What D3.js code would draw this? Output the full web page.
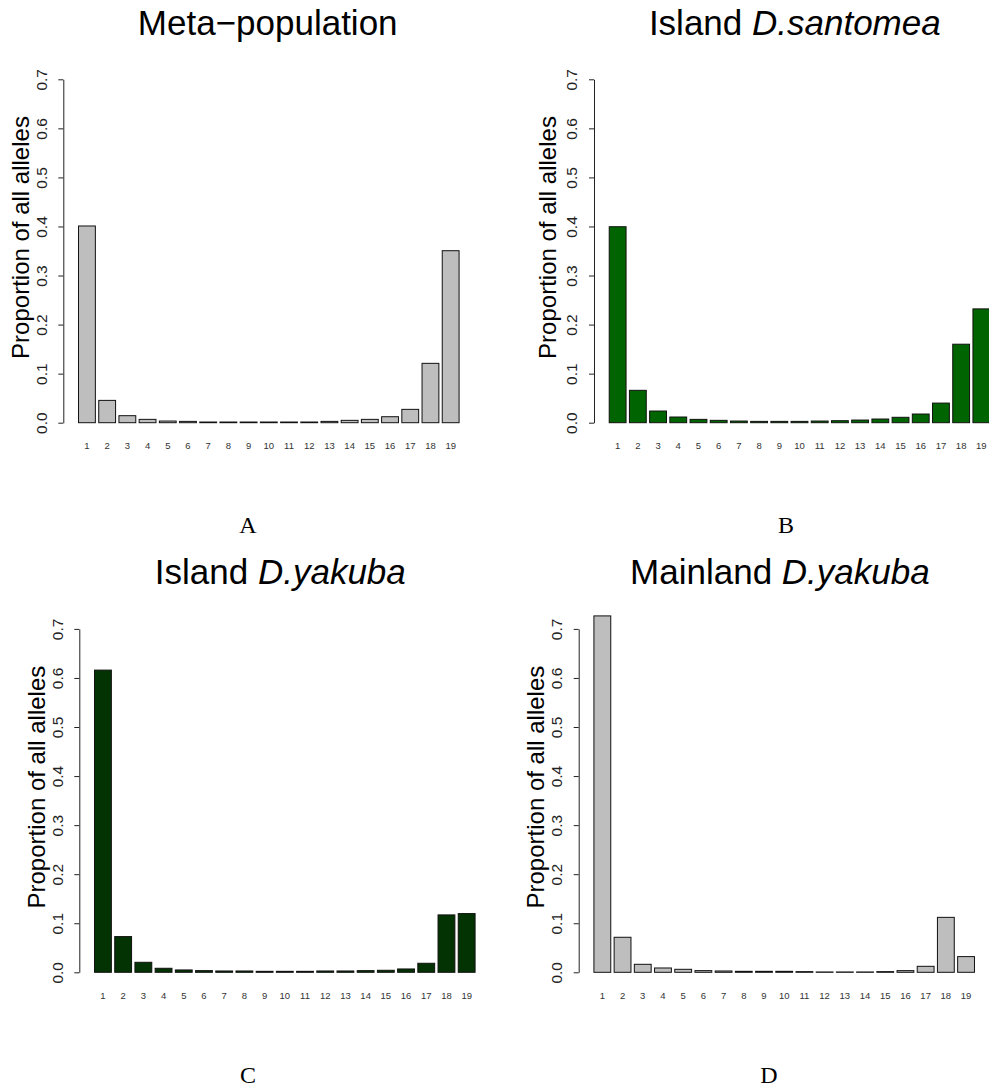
<!DOCTYPE html>
<html>
<head>
<meta charset="utf-8">
<script src="https://cdn.jsdelivr.net/npm/d3@7"></script>
<style>
  body { margin: 0; background: #fff; }
  svg { display: block; }
</style>
</head>
<body>
<svg width="989" height="1088"></svg>
<script>
// allele classes along the x axis
const categories = ["1","2","3","4","5","6","7","8","9","10","11","12","13","14","15","16","17","18","19"];
const yTicks = [0, 0.1, 0.2, 0.3, 0.4, 0.5, 0.6, 0.7];

// proportions
const metaPopulation = [0.401, 0.0455, 0.0143, 0.0068, 0.0034, 0.0027, 0.0014, 0.0014, 0.0014, 0.0014, 0.0014, 0.0014, 0.0027, 0.0048, 0.0068, 0.0122, 0.0272, 0.121, 0.3506];
const islandSantomea = [0.3995, 0.066, 0.0238, 0.0116, 0.0068, 0.0048, 0.0034, 0.0027, 0.0027, 0.0027, 0.0034, 0.0041, 0.0054, 0.0075, 0.011, 0.0177, 0.040, 0.160, 0.232];
const islandYakuba = [0.616, 0.0728, 0.0204, 0.0082, 0.0048, 0.0034, 0.0027, 0.0027, 0.002, 0.002, 0.002, 0.0027, 0.0027, 0.0034, 0.0041, 0.0068, 0.0184, 0.117, 0.1197];
const mainlandYakuba = [0.7265, 0.0714, 0.0163, 0.0088, 0.0061, 0.0034, 0.0027, 0.002, 0.002, 0.002, 0.0014, 0.0007, 0.0007, 0.0007, 0.0014, 0.0034, 0.0122, 0.112, 0.032];

const panelTitles = [
    ["Meta\u2212population", ""],
    ["Island ", "D.santomea"],
    ["Island ", "D.yakuba"],
    ["Mainland ", "D.yakuba"]
];
const panelLetters = ["A", "B", "C", "D"];

const svg = d3.select("svg");
const sans = "'Liberation Sans', Arial, Helvetica, sans-serif";

function drawPanel(values, title, letter, cfg){
    const plotW = 411;
    const plotH = 343.4;

    const x = d3.scaleBand()
        .domain(categories)
        .range([cfg.axisX, cfg.axisX + plotW])
        .paddingInner(1/6)
        .paddingOuter(0.7533);

    const y = d3.scaleLinear()
        .domain([0, 0.7])
        .range([cfg.y0, cfg.y0 - plotH]);

    const g = svg.append("g");

    g.selectAll("rect")
        .data(values)
        .enter()
        .append("rect")
        .attr("x", (d, i) => x(categories[i]))
        .attr("y", d => y(d))
        .attr("width", x.bandwidth())
        .attr("height", d => y(0) - y(d))
        .attr("fill", cfg.fill)
        .attr("stroke", "#111")
        .attr("stroke-width", 1);

    // y axis (R style: rotated labels)
    const yAxisGroup = g.append("g")
        .attr("transform", `translate(${cfg.axisX}, 0)`)
        .call(d3.axisLeft(y).tickValues(yTicks).tickSize(5).tickSizeOuter(0).tickFormat(d3.format(".1f")));

    yAxisGroup.select(".domain").attr("stroke", "#222");
    yAxisGroup.selectAll(".tick line").attr("stroke", "#222");
    yAxisGroup.selectAll("text")
        .attr("transform", "rotate(-90)")
        .attr("x", 0)
        .attr("y", -16.7)
        .attr("dy", 0)
        .attr("text-anchor", "middle")
        .attr("fill", "#222")
        .style("font-family", sans)
        .style("font-size", "15.5px");

    // bar names underneath
    const xAxisGroup = g.append("g")
        .attr("transform", `translate(0, ${cfg.y0})`)
        .call(d3.axisBottom(x).tickSize(0));
    xAxisGroup.select(".domain").remove();
    xAxisGroup.selectAll("text")
        .attr("y", 26.5)
        .attr("dy", 0)
        .attr("fill", "#333")
        .style("font-family", sans)
        .style("font-size", "9.5px");

    // y axis title
    g.append("text")
        .attr("transform", `translate(${cfg.axisX - cfg.labelGap}, ${cfg.y0 - 185.2}) rotate(-90)`)
        .attr("text-anchor", "middle")
        .style("font-family", sans)
        .style("font-size", "24px")
        .text("Proportion of all alleles");

    // main title
    const t = g.append("text")
        .attr("x", cfg.titleX)
        .attr("y", cfg.y0 - 388)
        .attr("text-anchor", "middle")
        .style("font-family", sans)
        .style("font-size", "35px");
    t.append("tspan").text(title[0]);
    if (title[1]) t.append("tspan").style("font-style", "italic").text(title[1]);

    // subfigure letter
    g.append("text")
        .attr("x", cfg.letterX)
        .attr("y", cfg.y0 + 110.6)
        .attr("text-anchor", "middle")
        .style("font-family", "'Liberation Serif', 'Times New Roman', serif")
        .style("font-size", "24px")
        .text(letter);
}

drawPanel(metaPopulation, panelTitles[0], panelLetters[0],
    {axisX: 63.3, y0: 422.7, fill: "#bebebe", labelGap: 34.8, titleX: 267.7, letterX: 248});
drawPanel(islandSantomea, panelTitles[1], panelLetters[1],
    {axisX: 594, y0: 422.7, fill: "#006400", labelGap: 38.3, titleX: 794.8, letterX: 786});
drawPanel(islandYakuba, panelTitles[2], panelLetters[2],
    {axisX: 79.3, y0: 972.3, fill: "#033303", labelGap: 34, titleX: 280.3, letterX: 248});
drawPanel(mainlandYakuba, panelTitles[3], panelLetters[3],
    {axisX: 578.7, y0: 972.3, fill: "#bebebe", labelGap: 34.8, titleX: 779.9, letterX: 769});
</script>
</body>
</html>
